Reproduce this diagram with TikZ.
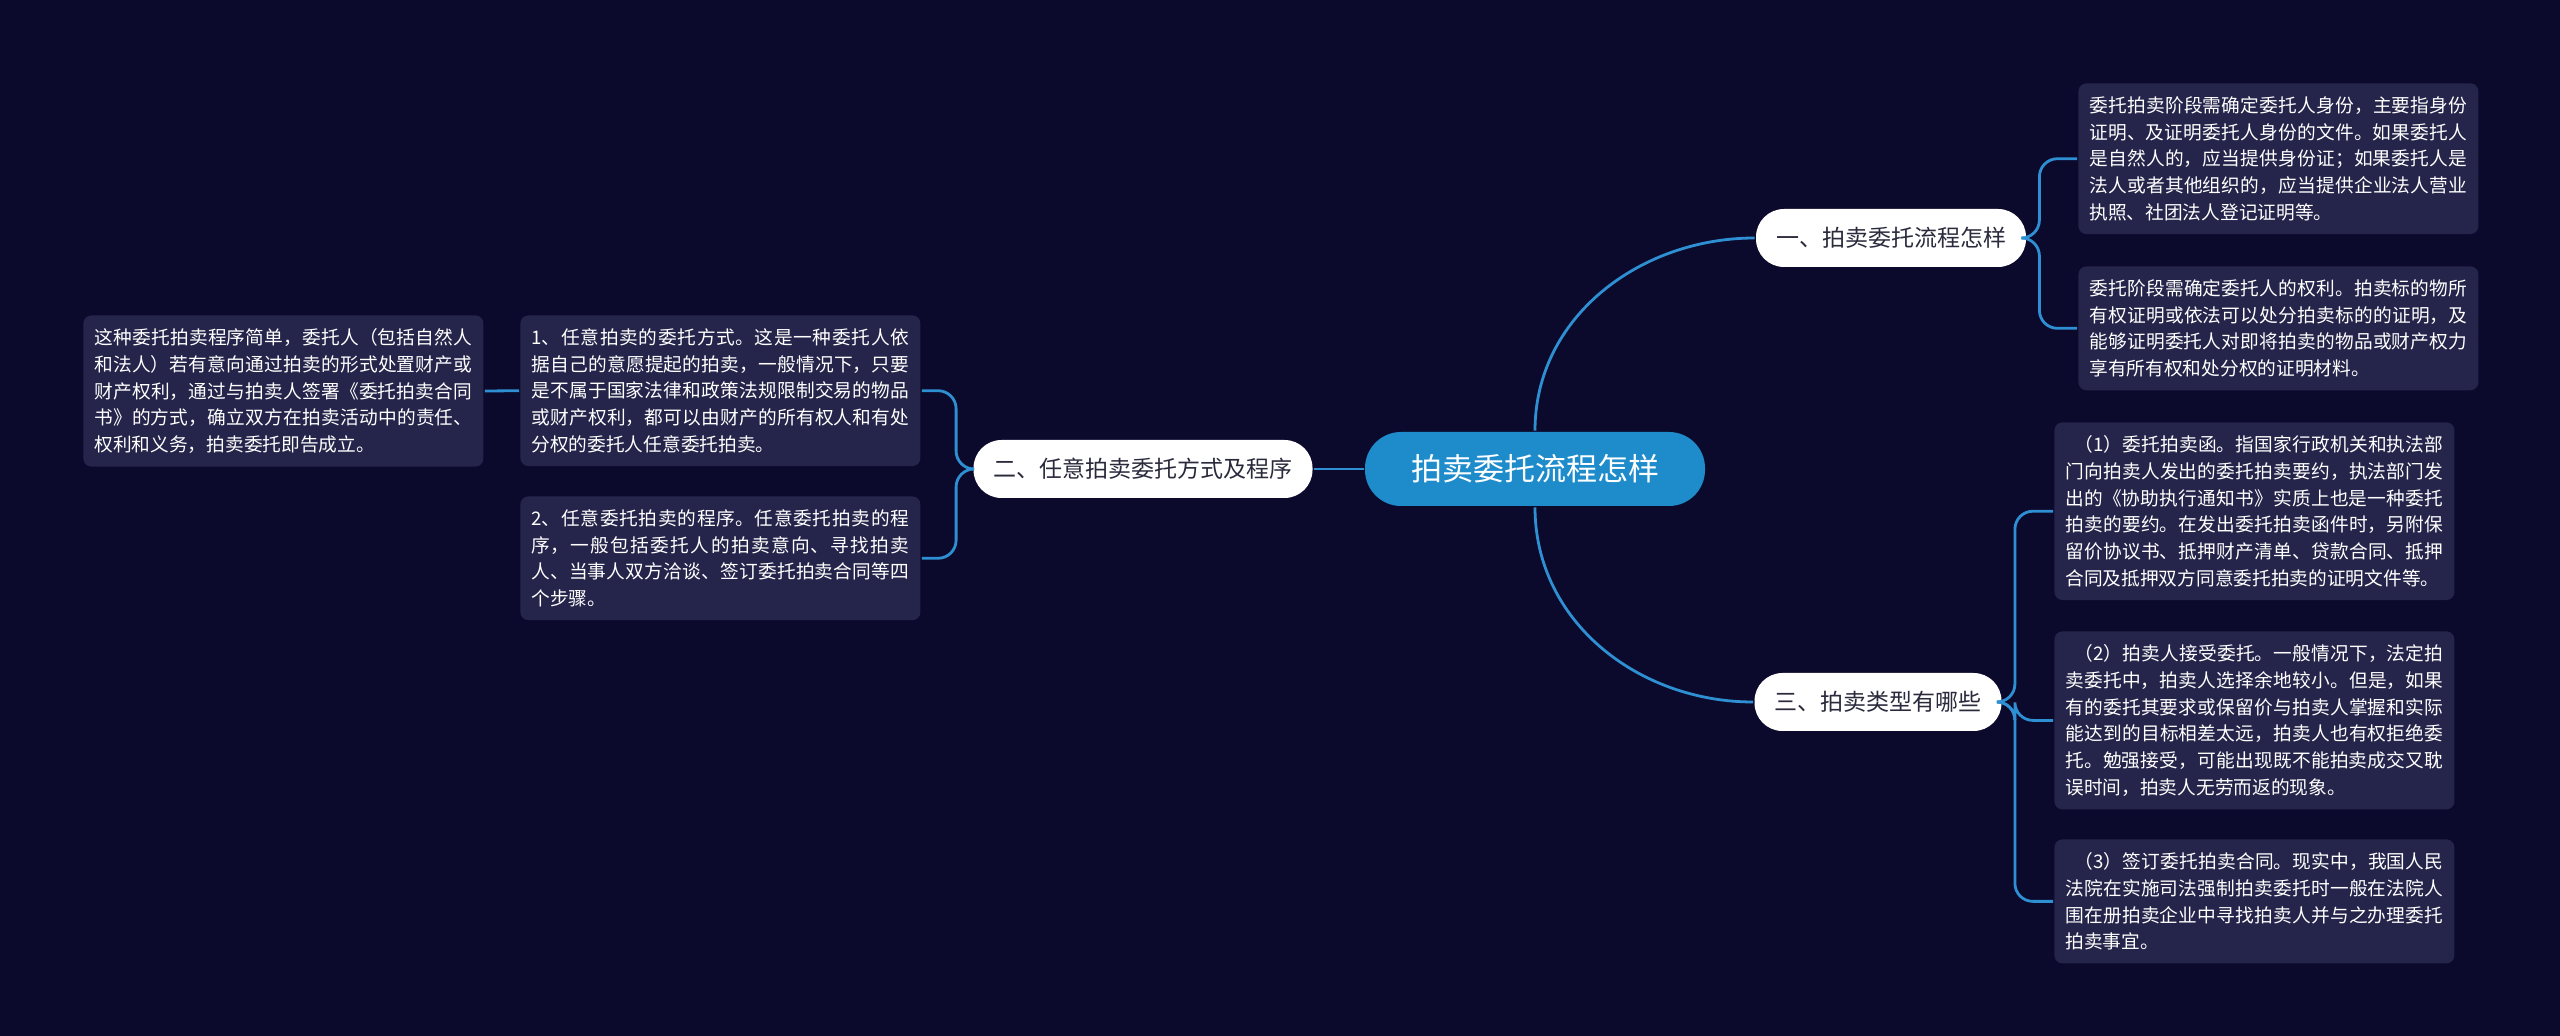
\documentclass[tikz,border=0pt]{standalone}
\usepackage{fontspec}
\setmainfont{Noto Sans CJK SC}
\XeTeXlinebreaklocale "zh"
\XeTeXlinebreakskip=0pt plus 1pt
\usetikzlibrary{positioning}
\definecolor{bgcol}{HTML}{0C0A2C}
\definecolor{leafcol}{HTML}{25244A}
\definecolor{linecol}{HTML}{2E8FD2}
\definecolor{rootcol}{HTML}{1E8BCB}
\definecolor{branchtext}{HTML}{2A2A3C}
\begin{document}
\begin{tikzpicture}[
            x = 0.5pt, y = -0.5pt, % one unit = one pixel of the reference
            line width = 1.4pt,
            rootbox/.style = {fill = rootcol, text = white, rounded corners = 18pt,
                minimum width = 170pt, minimum height = 37pt, font = \fontsize{15.5}{18}\selectfont},
            branchbox/.style = {fill = white, text = branchtext, rounded corners = 14pt,
                minimum height = 29pt, inner xsep = 10pt, font = \fontsize{11.5}{14}\selectfont},
            leafbox/.style = {fill = leafcol, text = white, rounded corners = 4pt,
                text width = 189pt, inner xsep = 5.5pt, inner ysep = 6.5pt, align = justify,
                font = \fontsize{9.35}{13.4}\selectfont},
            link/.style = {draw = linecol, line width = 1.4pt}
        ]
    \fill[bgcol] (0,0) rectangle (2560,1036);
    \useasboundingbox (0,0) rectangle (2560,1036);

    \node[rootbox] (root) at (1535,469) {拍卖委托流程怎样};
    \node[branchbox] (one) at (1891,238) {一、拍卖委托流程怎样};
    \node[branchbox] (three) at (1878,702) {三、拍卖类型有哪些};
    \node[branchbox] (two) at (1143,469) {二、任意拍卖委托方式及程序};

    % right upper leaves
    \node[leafbox, anchor = north west] (oneA) at (2077,82) {委托拍卖阶段需确定委托人身份，主要指身份证明、及证明委托人身份的文件。如果委托人是自然人的，应当提供身份证；如果委托人是法人或者其他组织的，应当提供企业法人营业执照、社团法人登记证明等。};
    \node[leafbox, anchor = north west] (oneB) at (2077,265) {委托阶段需确定委托人的权利。拍卖标的物所有权证明或依法可以处分拍卖标的的证明，及能够证明委托人对即将拍卖的物品或财产权力享有所有权和处分权的证明材料。};

    % right lower leaves
    \node[leafbox, anchor = north west] (threeA) at (2053,421) {\hspace*{0.5em}（1）委托拍卖函。指国家行政机关和执法部门向拍卖人发出的委托拍卖要约，执法部门发出的《协助执行通知书》实质上也是一种委托拍卖的要约。在发出委托拍卖函件时，另附保留价协议书、抵押财产清单、贷款合同、抵押合同及抵押双方同意委托拍卖的证明文件等。};
    \node[leafbox, anchor = north west] (threeB) at (2053,630) {\hspace*{0.5em}（2）拍卖人接受委托。一般情况下，法定拍卖委托中，拍卖人选择余地较小。但是，如果有的委托其要求或保留价与拍卖人掌握和实际能达到的目标相差太远，拍卖人也有权拒绝委托。勉强接受，可能出现既不能拍卖成交又耽误时间，拍卖人无劳而返的现象。};
    \node[leafbox, anchor = north west] (threeC) at (2053,838) {\hspace*{0.5em}（3）签订委托拍卖合同。现实中，我国人民法院在实施司法强制拍卖委托时一般在法院人围在册拍卖企业中寻找拍卖人并与之办理委托拍卖事宜。};

    % left leaves
    \node[leafbox, anchor = north west] (twoA) at (519,314) {1、任意拍卖的委托方式。这是一种委托人依据自己的意愿提起的拍卖，一般情况下，只要是不属于国家法律和政策法规限制交易的物品或财产权利，都可以由财产的所有权人和有处分权的委托人任意委托拍卖。};
    \node[leafbox, anchor = north west] (twoB) at (519,495) {2、任意委托拍卖的程序。任意委托拍卖的程序，一般包括委托人的拍卖意向、寻找拍卖人、当事人双方洽谈、签订委托拍卖合同等四个步骤。};
    \node[leafbox, anchor = north west] (twoAA) at (82,314) {这种委托拍卖程序简单，委托人（包括自然人和法人）若有意向通过拍卖的形式处置财产或财产权利，通过与拍卖人签署《委托拍卖合同书》的方式，确立双方在拍卖活动中的责任、权利和义务，拍卖委托即告成立。};

    % connectors
    \draw[link] (root.north) to[out=90, in=180] (one.west);
    \draw[link] (root.south) to[out=-90, in=180] (three.west);
    \draw[link] (root.west) -- (two.east);
    \foreach \leaf in {oneA, oneB}
        \draw[link, rounded corners = 9pt] (one.east) -- ++(12,0) |- (\leaf.west);
    \foreach \leaf in {threeA, threeB, threeC}
        \draw[link, rounded corners = 9pt] (three.east) -- ++(12,0) |- (\leaf.west);
    \foreach \leaf in {twoA, twoB}
        \draw[link, rounded corners = 9pt] (two.west) -- ++(-16,0) |- (\leaf.east);
    \draw[link] (twoA.west) -- (twoAA.east);
\end{tikzpicture}
\end{document}
